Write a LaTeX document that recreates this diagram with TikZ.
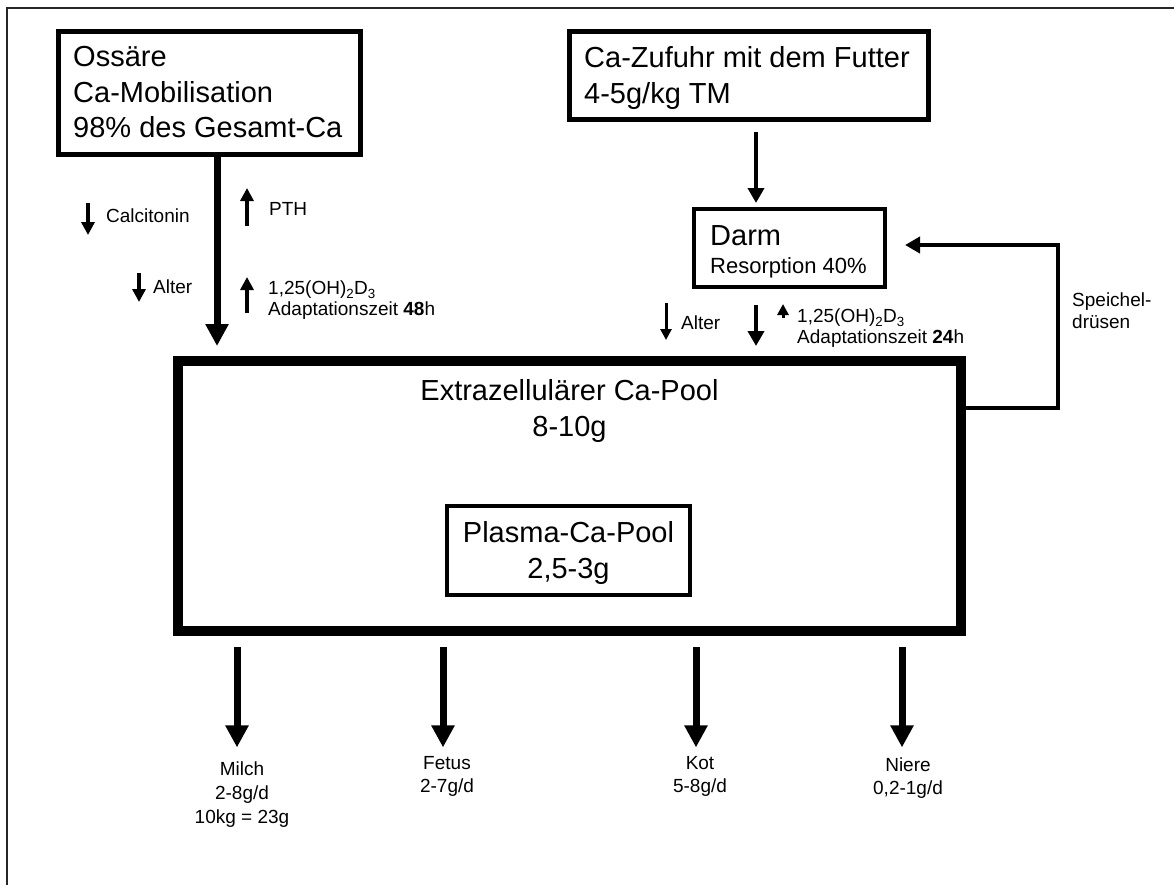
\documentclass[tikz,border=0pt]{standalone}
\usepackage{fontspec}
\setmainfont{Liberation Sans}
\usetikzlibrary{arrows.meta}
\usetikzlibrary{positioning,calc}

\begin{document}
\begin{tikzpicture}[x=1pt, y=-1pt,
         pbox/.style  = {draw, inner sep=0pt},
         big/.style   = {inner sep=0pt, align=left, font=\fontsize{29}{35.5}\selectfont},
         small/.style = {inner sep=0pt, align=left, font=\fontsize{19}{24}\selectfont},
         flow/.style  = {line width=7pt, -{Triangle[width=22pt,length=22pt]}},
         feed/.style  = {line width=4pt, -{Triangle[width=16pt,length=15pt]}},
         hint/.style  = {line width=4pt, -{Triangle[width=13pt,length=13pt]}},
         thin hint/.style = {line width=3pt, -{Triangle[width=11pt,length=11pt]}}
]
         \useasboundingbox (0,0) rectangle (1174,884);
         \clip (0,0) rectangle (1174,884);

         % frame
         \draw[line width=2pt, black!85] (7,900) -- (7,8) -- (1190,8);

         % boxes
         \node[pbox, line width=5pt, minimum width=302pt, minimum height=123pt] (oss) at (209.5,93) {};
         \node[pbox, line width=5pt, minimum width=359pt, minimum height=88pt] (fut) at (749,75.5) {};
         \node[pbox, line width=4pt, minimum width=191pt, minimum height=78pt] (darm) at (789.5,248) {};
         \node[pbox, line width=10pt, minimum width=783pt, minimum height=270pt] (pool) at (569.5,496) {};
         \node[pbox, line width=4.5pt, minimum width=243pt, minimum height=89pt] (plasma) at (568.5,550.5) {};

         \node[big, anchor=north west] (osstxt) at (73,46.5)
            {Ossäre\\Ca-Mobilisation\\98\% des Gesamt-Ca};
         \node[big, anchor=north west] (futtxt) at (584,46.5)
            {Ca-Zufuhr mit dem Futter\\4-5g/kg TM};
         \node[big, anchor=north west, font=\fontsize{29}{28}\selectfont] (darmtxt) at (710,225)
            {Darm\\{\fontsize{22}{28}\selectfont Resorption 40\%}};
         \node[big, anchor=north, align=center] (pooltxt) at (569.5,379.5)
            {Extrazellulärer Ca-Pool\\8-10g};
         \node[big, anchor=north, align=center] (plasmatxt) at (568.5,521.5)
            {Plasma-Ca-Pool\\2,5-3g};

         % regulation, bone side
         \node[small, anchor=base west] (calc) at (106,222) {Calcitonin};
         \node[small, anchor=base west] (pth)  at (269,215) {PTH};
         \node[small, anchor=base west] (altl) at (153,293) {Alter};
         \node[small, anchor=north west, font=\fontsize{19}{20.5}\selectfont] (vitl) at (268,281)
            {1,25(OH)\textsubscript{2}D\textsubscript{3}\\Adaptationszeit \textbf{48}h};

         \draw[hint] ($(calc.base west)+(-18,-19)$) -- ($(calc.base west)+(-18,13)$);
         \draw[hint] ($(altl.base west)+(-14,-20)$) -- ($(altl.base west)+(-14,9)$);
         \draw[hint] ($(pth.base west)+(-22,11)$)   -- ($(pth.base west)+(-22,-27)$);
         \draw[hint] ($(vitl.north west)+(-21,32)$) -- ($(vitl.north west)+(-21,-4)$);

         % regulation, gut side
         \node[small, anchor=base west] (altr) at (681,329) {Alter};
         \node[small, anchor=north west, font=\fontsize{19}{20.5}\selectfont] (vitr) at (797,309)
            {1,25(OH)\textsubscript{2}D\textsubscript{3}\\Adaptationszeit \textbf{24}h};
         \node[small, anchor=north west, font=\fontsize{19}{22}\selectfont] (spei) at (1072,293)
            {Speichel-\\drüsen};

         \draw[thin hint] ($(altr.base west)+(-15,-26)$) -- ($(altr.base west)+(-15,11)$);
         \draw[thin hint] ($(vitr.north west)+(-14,9)$) -- ($(vitr.north west)+(-14,-5)$);

         % losses
         \node[small, anchor=north, align=center] (milch) at (242,761.4) {Milch\\2-8g/d\\10kg = 23g};
         \node[small, anchor=north, align=center, font=\fontsize{19}{23}\selectfont] (fetus) at (447,756.4) {Fetus\\2-7g/d};
         \node[small, anchor=north, align=center, font=\fontsize{19}{23}\selectfont] (kot)   at (700,756.4) {Kot\\5-8g/d};
         \node[small, anchor=north, align=center, font=\fontsize{19}{23}\selectfont] (niere) at (908,757.4) {Niere\\0,2-1g/d};

         % fluxes
         \draw[flow, shorten >=10pt] (oss.south -| 217,0) -- (pool.north -| 217,0);
         \draw[feed, shorten <=9.5pt, shorten >=4pt] (fut.south -| 756,0) -- (darm.north -| 756,0);
         \draw[feed, shorten <=16pt, shorten >=10pt] (darm.south -| 756,0) -- (pool.north -| 756,0);
         \draw[feed, shorten >=18pt] (pool.east |- 0,408) -| (1058,245) -- (darm.east |- 0,245);

         \draw[flow, shorten <=11pt, shorten >=14pt] (pool.south -| 237,0) -- (milch.north -| 237,0);
         \draw[flow, shorten <=11pt, shorten >=9pt]  (pool.south -| 443,0) -- (fetus.north -| 443,0);
         \draw[flow, shorten <=11pt, shorten >=9pt]  (pool.south -| 696,0) -- (kot.north -| 696,0);
         \draw[flow, shorten <=11pt, shorten >=10pt] (pool.south -| 902,0) -- (niere.north -| 902,0);
\end{tikzpicture}
\end{document}
